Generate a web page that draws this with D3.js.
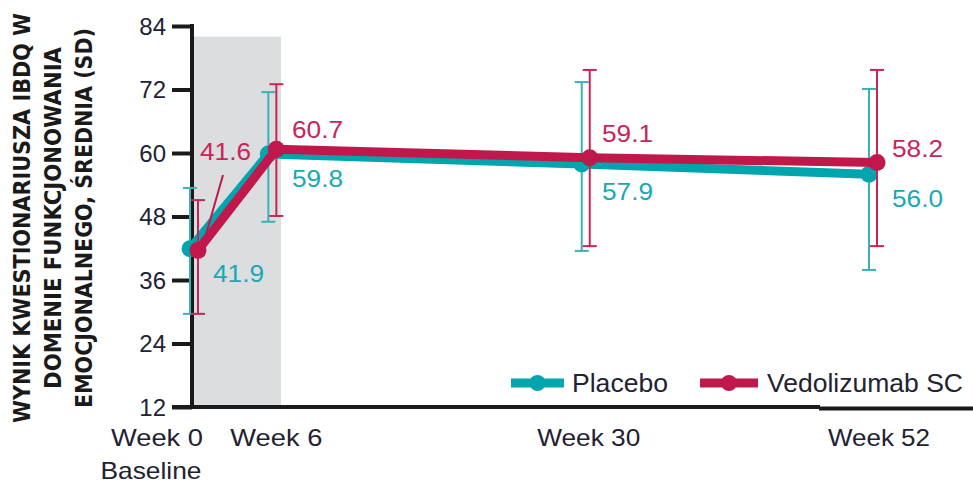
<!DOCTYPE html>
<html><head><meta charset="utf-8">
<script src="https://cdn.jsdelivr.net/npm/d3@7"></script>
<style>
html,body{margin:0;padding:0;background:#fff;}
svg{display:block;font-family:"Liberation Sans",Arial,sans-serif;}
</style></head>
<body>
<svg id="c" width="973" height="484"></svg>
<script>
const weeks = [0, 6, 30, 52];
const weekLabels = ["Week 0", "Week 6", "Week 30", "Week 52"];
const placebo = [41.9, 59.8, 57.9, 56.0];
const placeboHi = [53.4, 71.5, 73.4, 72.1];
const placeboLo = [29.6, 47.0, 41.5, 37.9];
const vedo = [41.6, 60.7, 59.1, 58.2];
const vedoHi = [51.1, 73.0, 75.7, 75.7];
const vedoLo = [29.6, 48.1, 42.4, 42.4];
const yTicks = [12, 24, 36, 48, 60, 72, 84];
const seriesNames = ["Placebo", "Vedolizumab SC"];
const yTitle = ["WYNIK KWESTIONARIUSZA IBDQ W", "DOMENIE FUNKCJONOWANIA", "EMOCJONALNEGO, ŚREDNIA (SD)"];

const TEAL = "#00A5AE", RED = "#C0184B";
const TEAL_T = "#19A9B2", RED_T = "#C82558";
const svg = d3.select("#c");
const x = d3.scaleLinear().domain([0, 52]).range([194, 873]);
const y = d3.scaleLinear().domain([12, 84]).range([407, 26]);

// shaded band (week 0 to week 6 region)
svg.append("rect").attr("x", 192).attr("y", y(82)).attr("width", 89)
  .attr("height", y(12) - y(82)).attr("fill", "#dcdddf");

// y title
const tw = [410, 342, 380];
yTitle.forEach((t, i) => {
  svg.append("text").attr("transform", `translate(${30 + i * 31},218) rotate(-90)`)
    .attr("text-anchor", "middle").attr("font-family", "'Liberation Sans Narrow','DejaVu Sans Condensed',Arial,sans-serif")
    .attr("font-weight", "bold").attr("font-size", 23).attr("fill", "#1a1a1a")
    .attr("textLength", tw[i]).attr("lengthAdjust", "spacingAndGlyphs").text(t);
});

// y axis
const yAxis = d3.axisLeft(y).tickValues(yTicks).tickSize(20).tickPadding(6).tickFormat(d3.format("d"));
const ga = svg.append("g").attr("transform", "translate(192,0)").call(yAxis);
ga.select(".domain").remove();
ga.selectAll(".tick line").attr("stroke", "#1a1a1a").attr("stroke-width", 4);
ga.selectAll(".tick text").attr("font-size", 24).attr("fill", "#222233")
  .attr("font-family", "'Liberation Sans',Arial,sans-serif").attr("dy", "0.34em");
svg.append("line").attr("x1", 192).attr("x2", 192).attr("y1", y(84) - 2).attr("y2", y(12) + 2)
  .attr("stroke", "#1a1a1a").attr("stroke-width", 4);
// x axis line
svg.append("line").attr("x1", 172).attr("x2", 820).attr("y1", y(12)).attr("y2", y(12))
  .attr("stroke", "#1a1a1a").attr("stroke-width", 4);
svg.append("line").attr("x1", 819).attr("x2", 973).attr("y1", y(12) + 1.5).attr("y2", y(12) + 1.5)
  .attr("stroke", "#1a1a1a").attr("stroke-width", 4);

// x labels
const xLabOff = [-37, 4, 3, 6];
const xLabW = [92, 92, 103, 102];
weeks.forEach((w, i) => {
  svg.append("text").attr("x", x(w) + xLabOff[i]).attr("y", 446).attr("text-anchor", "middle")
    .attr("font-size", 24).attr("fill", "#222233")
    .attr("textLength", xLabW[i]).attr("lengthAdjust", "spacingAndGlyphs").text(weekLabels[i]);
});
svg.append("text").attr("x", x(0) - 43).attr("y", 479).attr("text-anchor", "middle")
  .attr("font-size", 24).attr("fill", "#222233")
  .attr("textLength", 101).attr("lengthAdjust", "spacingAndGlyphs").text("Baseline");

function drawSeries(vals, hi, lo, color, ecolor, dx) {
  const g = svg.append("g");
  weeks.forEach((w, i) => {
    const xx = x(w) + dx;
    g.append("line").attr("x1", xx).attr("x2", xx).attr("y1", y(hi[i])).attr("y2", y(lo[i]))
      .attr("stroke", ecolor).attr("stroke-width", 2);
    [hi[i], lo[i]].forEach(v => g.append("line").attr("x1", xx - 7).attr("x2", xx + 7)
      .attr("y1", y(v)).attr("y2", y(v)).attr("stroke", ecolor).attr("stroke-width", 2));
  });
  const line = d3.line().x((d, i) => x(weeks[i]) + dx).y(d => y(d));
  g.append("path").datum(vals).attr("d", line).attr("fill", "none").attr("stroke", color)
    .attr("stroke-width", 9).attr("stroke-linejoin", "round");
  g.selectAll("circle").data(vals).enter().append("circle")
    .attr("cx", (d, i) => x(weeks[i]) + dx).attr("cy", d => y(d)).attr("r", 8.5).attr("fill", color);
}
drawSeries(placebo, placeboHi, placeboLo, TEAL, "#3BB0B8", -4);
drawSeries(vedo, vedoHi, vedoLo, RED, "#C8245A", 4);

// value labels
const pLab = [[213, 282], [292, 187], [602, 200], [892, 207]];
const vLab = [[200, 160], [292, 138], [602, 142], [892, 157]];
placebo.forEach((v, i) => svg.append("text").attr("x", pLab[i][0]).attr("y", pLab[i][1])
  .attr("font-size", 24).attr("fill", TEAL_T).attr("textLength", 51).attr("lengthAdjust", "spacingAndGlyphs")
  .text(d3.format(".1f")(v)));
vedo.forEach((v, i) => svg.append("text").attr("x", vLab[i][0]).attr("y", vLab[i][1])
  .attr("font-size", 24).attr("fill", RED_T).attr("textLength", 51).attr("lengthAdjust", "spacingAndGlyphs")
  .text(d3.format(".1f")(v)));
svg.append("line").attr("x1", 223).attr("y1", 175).attr("x2", 201).attr("y2", 252)
  .attr("stroke", RED).attr("stroke-width", 2);

// legend
const leg = [[511, 564, TEAL, 572, 96], [700, 758, RED, 767, 196]];
leg.forEach((l, i) => {
  svg.append("line").attr("x1", l[0]).attr("x2", l[1]).attr("y1", 383).attr("y2", 383)
    .attr("stroke", l[2]).attr("stroke-width", 9);
  svg.append("circle").attr("cx", (l[0] + l[1]) / 2).attr("cy", 383).attr("r", 8).attr("fill", l[2]);
  svg.append("text").attr("x", l[3]).attr("y", 392).attr("font-size", 25).attr("fill", "#222233")
    .attr("textLength", l[4]).attr("lengthAdjust", "spacingAndGlyphs").text(seriesNames[i]);
});
</script>
</body></html>
